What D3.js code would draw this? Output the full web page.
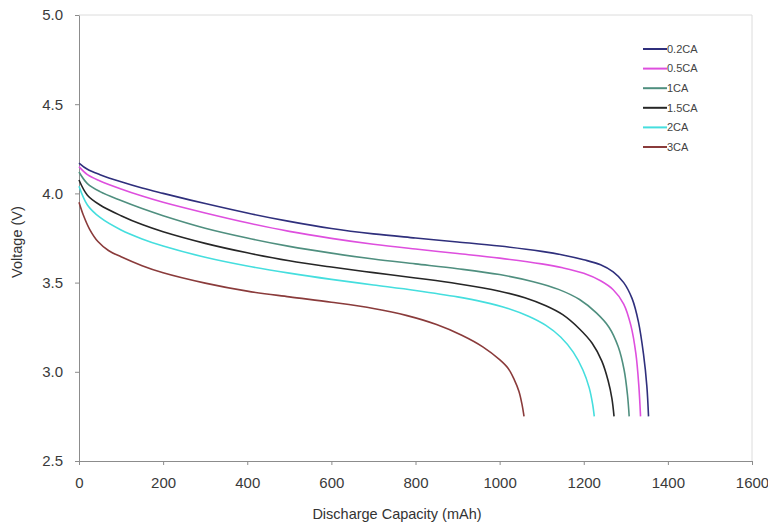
<!DOCTYPE html>
<html><head><meta charset="utf-8">
<script src="https://cdn.jsdelivr.net/npm/d3@7/dist/d3.min.js"></script>
<style>
body{margin:0;background:#fff;}
svg{display:block;font-family:"Liberation Sans",Arial,sans-serif;}
</style></head>
<body><svg id="c" width="768" height="523"></svg>
<script>
const seriesNames = ["0.2CA","0.5CA","1CA","1.5CA","2CA","3CA"];
const seriesColors = ["#2f2f7c","#de4fde","#4f8f7f","#262626","#45dede","#8a3b3b"];
const cap02 = [0,20,50,100,150,200,300,400,500,600,700,800,900,1000,1100,1150,1200,1240,1270,1295,1315,1330,1342,1350,1354];
const v02   = [4.17,4.135,4.105,4.065,4.03,4.00,3.943,3.89,3.843,3.803,3.773,3.75,3.728,3.705,3.675,3.655,3.628,3.60,3.56,3.50,3.41,3.28,3.10,2.92,2.75];
const cap05 = [0,20,50,100,150,200,300,400,500,600,700,800,900,1000,1100,1150,1200,1240,1270,1295,1312,1324,1331,1335];
const v05   = [4.15,4.105,4.07,4.025,3.985,3.95,3.89,3.835,3.787,3.748,3.715,3.688,3.663,3.637,3.605,3.583,3.552,3.51,3.46,3.38,3.26,3.10,2.92,2.75];
const cap1  = [0,20,50,100,150,200,300,400,500,600,700,800,900,1000,1080,1140,1190,1230,1260,1282,1296,1304,1308];
const v1    = [4.12,4.055,4.01,3.96,3.915,3.875,3.805,3.75,3.703,3.665,3.632,3.605,3.578,3.545,3.505,3.462,3.405,3.33,3.25,3.14,3.01,2.87,2.75];
const cap15 = [0,20,50,100,150,200,300,400,500,600,700,800,900,1000,1060,1110,1150,1190,1220,1243,1258,1267,1272];
const v15   = [4.075,3.99,3.935,3.875,3.825,3.785,3.72,3.667,3.622,3.587,3.556,3.526,3.494,3.452,3.415,3.37,3.32,3.24,3.16,3.06,2.95,2.85,2.75];
const cap2  = [0,20,50,100,150,200,300,400,500,600,700,800,900,960,1020,1070,1110,1145,1175,1198,1213,1221,1225];
const v2    = [4.04,3.935,3.865,3.795,3.745,3.705,3.642,3.593,3.553,3.518,3.487,3.456,3.42,3.392,3.355,3.31,3.26,3.195,3.11,3.01,2.91,2.82,2.75];
const cap3  = [0,10,25,45,70,100,150,200,300,400,500,600,700,780,850,910,960,1000,1020,1035,1046,1053,1058];
const v3    = [3.95,3.88,3.80,3.73,3.68,3.645,3.595,3.555,3.497,3.452,3.42,3.39,3.355,3.315,3.265,3.205,3.14,3.068,3.02,2.955,2.89,2.82,2.75];
const xTicks = [0,200,400,600,800,1000,1200,1400,1600];
const yTicks = [2.5,3.0,3.5,4.0,4.5,5.0];
const xTitle = "Discharge Capacity (mAh)";
const yTitle = "Voltage (V)";

const caps = [cap02,cap05,cap1,cap15,cap2,cap3];
const volts = [v02,v05,v1,v15,v2,v3];
const series = seriesNames.map((n,i)=>({name:n,color:seriesColors[i],pts:caps[i].map((c,j)=>[c,volts[i][j]])}));

const L=79,R=752,T=15,B=461;
const svg=d3.select("#c");
const x=d3.scaleLinear().domain([0,1600]).range([L,R]);
const y=d3.scaleLinear().domain([2.5,5.0]).range([B,T]);

// frame
svg.append("path").attr("d",`M${L},${T}H${R}V${B}`).attr("fill","none").attr("stroke","#dcdcdc").attr("stroke-width",1);

const xa=svg.append("g").attr("transform",`translate(0,${B})`)
  .call(d3.axisBottom(x).tickValues(xTicks).tickFormat(d3.format("d")).tickSize(4).tickSizeOuter(0));
const ya=svg.append("g").attr("transform",`translate(${L},0)`)
  .call(d3.axisLeft(y).tickValues(yTicks).tickFormat(d3.format(".1f")).tickSize(4).tickSizeOuter(0));
[xa,ya].forEach(g=>{
  g.select(".domain").attr("stroke","#8c8c8c");
  g.selectAll(".tick line").attr("stroke","#8c8c8c");
  g.selectAll(".tick text").attr("fill","#3a3a3a").attr("font-size",15).attr("font-family","Liberation Sans, Arial, sans-serif");
});
xa.selectAll(".tick text").attr("dy","1.31em");
ya.selectAll(".tick text").attr("dx","-9px");

const line=d3.line().x(d=>x(d[0])).y(d=>y(d[1])).curve(d3.curveCatmullRom.alpha(0.5));
svg.append("g").selectAll("path").data(series).join("path")
  .attr("d",d=>line(d.pts)).attr("fill","none").attr("stroke",d=>d.color).attr("stroke-width",1.6);

// legend
const lg=svg.append("g");
series.forEach((s,i)=>{
  const yy=49+i*19.6;
  lg.append("line").attr("x1",643).attr("x2",667).attr("y1",yy).attr("y2",yy).attr("stroke",s.color).attr("stroke-width",2);
  lg.append("text").attr("x",667).attr("y",yy).attr("dy","0.35em").attr("font-size",11).attr("fill","#444").text(s.name);
});

svg.append("text").attr("x",397).attr("y",519).attr("text-anchor","middle").attr("font-size",14.5).attr("fill","#333").text(xTitle);
svg.append("text").attr("transform",`translate(22,242) rotate(-90)`).attr("text-anchor","middle").attr("font-size",14.5).attr("fill","#333").text(yTitle);
</script></body></html>
